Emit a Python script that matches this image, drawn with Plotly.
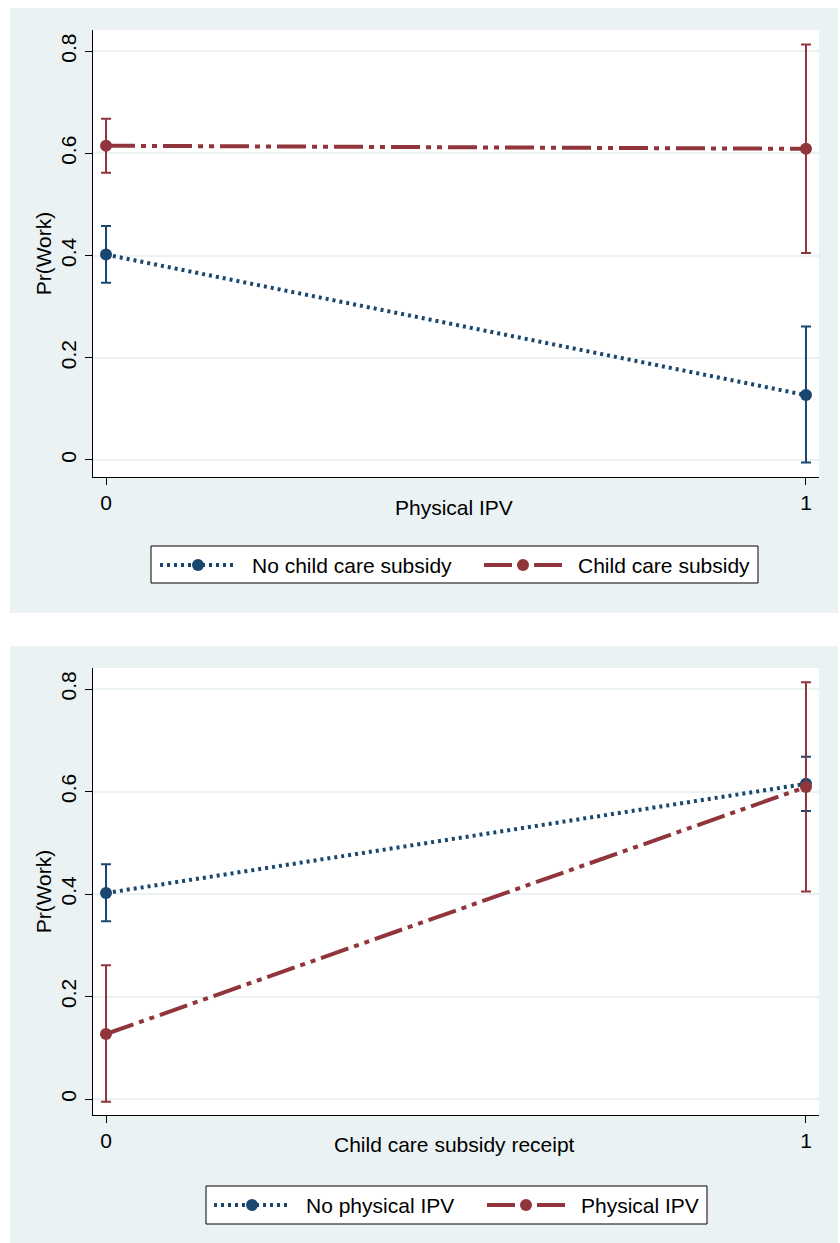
import plotly.graph_objects as go

# ---- data ----
x_levels = [0, 1]
x_ticktext = ["0", "1"]
y_ticks = [0, 0.2, 0.4, 0.6, 0.8]
y_ticktext = ["0", "0.2", "0.4", "0.6", "0.8"]

# Pr(Work) by Physical IPV (0/1)
no_sub = [0.402, 0.127]
no_sub_lo = [0.347, -0.005]
no_sub_hi = [0.458, 0.261]
sub = [0.615, 0.609]
sub_lo = [0.562, 0.405]
sub_hi = [0.668, 0.813]

# Panel 2 series by Child care subsidy receipt (0/1)
no_ipv = [no_sub[0], sub[0]]
no_ipv_lo = [no_sub_lo[0], sub_lo[0]]
no_ipv_hi = [no_sub_hi[0], sub_hi[0]]
ipv = [no_sub[1], sub[1]]
ipv_lo = [no_sub_lo[1], sub_lo[1]]
ipv_hi = [no_sub_hi[1], sub_hi[1]]

panel1_names = ["No child care subsidy", "Child care subsidy"]
panel2_names = ["No physical IPV", "Physical IPV"]

NAVY = "#1a476f"
MAROON = "#90353b"
BG = "#eaf2f3"
FONT = "Liberation Sans, Arial, sans-serif"
FS = 21
W, H = 840, 1243

BLUE_DASH = "3px,4px"
RED_DASH = "29px,6px,5px,6px,5px,6px"
RED_KEY_DASH = "28px,22px"


def px(xp):
    return xp / W


def py(yp):
    return 1 - yp / H


def trace(x, y, lo, hi, name, color, dash, xa, ya):
    return go.Scatter(
        x=x, y=y, name=name, mode="lines+markers", showlegend=False,
        line=dict(color=color, width=4, dash=dash),
        marker=dict(color=color, size=12),
        error_y=dict(type="data", symmetric=False,
                     array=[h - v for h, v in zip(hi, y)],
                     arrayminus=[v - l for v, l in zip(y, lo)],
                     color=color, thickness=2, width=5),
        xaxis=xa, yaxis=ya, hoverinfo="skip",
    )


fig = go.Figure()
fig.add_trace(trace(x_levels, no_sub, no_sub_lo, no_sub_hi, panel1_names[0], NAVY, BLUE_DASH, "x", "y"))
fig.add_trace(trace(x_levels, sub, sub_lo, sub_hi, panel1_names[1], MAROON, RED_DASH, "x", "y"))
fig.add_trace(trace(x_levels, no_ipv, no_ipv_lo, no_ipv_hi, panel2_names[0], NAVY, BLUE_DASH, "x2", "y2"))
fig.add_trace(trace(x_levels, ipv, ipv_lo, ipv_hi, panel2_names[1], MAROON, RED_DASH, "x2", "y2"))

xr = [-0.0186, 1.0186]

xcommon = dict(range=xr, tickvals=x_levels, ticktext=x_ticktext, showgrid=False,
               zeroline=False, showline=True, linecolor="black", linewidth=1.3,
               ticks="outside", ticklen=7, tickwidth=1.3, tickcolor="black",
               tickfont=dict(size=FS, color="black", family=FONT))
ycommon = dict(tickvals=y_ticks, ticktext=y_ticktext, showgrid=True, gridcolor=BG,
               gridwidth=1.5, zeroline=False, showline=True, linecolor="black",
               linewidth=1.3, ticks="outside", ticklen=7, tickwidth=1.3, tickcolor="black",
               tickangle=-90, tickfont=dict(size=FS, color="black", family=FONT),
               title=dict(text="Pr(Work)", font=dict(size=FS, color="black", family=FONT), standoff=0))

shapes = [
    dict(type="rect", xref="paper", yref="paper", x0=px(10), x1=px(838), y0=py(613), y1=py(8),
         fillcolor=BG, line=dict(width=0), layer="below"),
    dict(type="rect", xref="paper", yref="paper", x0=px(10), x1=px(838), y0=py(1243), y1=py(646),
         fillcolor=BG, line=dict(width=0), layer="below"),
    dict(type="rect", xref="paper", yref="paper", x0=px(93), x1=px(819), y0=py(477), y1=py(30),
         fillcolor="white", line=dict(width=0), layer="below"),
    dict(type="rect", xref="paper", yref="paper", x0=px(93), x1=px(819), y0=py(1115), y1=py(668),
         fillcolor="white", line=dict(width=0), layer="below"),
]
annotations = [
    dict(text="Physical IPV", xref="paper", yref="paper", x=px(454), y=py(508),
         xanchor="center", yanchor="middle", showarrow=False,
         font=dict(size=FS, color="black", family=FONT)),
    dict(text="Child care subsidy receipt", xref="paper", yref="paper", x=px(454), y=py(1144),
         xanchor="center", yanchor="middle", showarrow=False,
         font=dict(size=FS, color="black", family=FONT)),
]


def add_legend(box, cy, keys, names):
    # box: (x0, x1, y0, y1) in pixels; keys: list of (x0, x1) key-line extents
    x0, x1, y0, y1 = box
    shapes.append(dict(type="rect", xref="paper", yref="paper", x0=px(x0), x1=px(x1),
                       y0=py(y1), y1=py(y0), fillcolor="white",
                       line=dict(color="black", width=1)))
    styles = [(NAVY, BLUE_DASH), (MAROON, RED_KEY_DASH)]
    for (k0, k1), (col, dash), name in zip(keys, styles, names):
        shapes.append(dict(type="line", xref="paper", yref="paper", x0=px(k0), x1=px(k1),
                           y0=py(cy), y1=py(cy), line=dict(color=col, width=4, dash=dash)))
        cx = (k0 + k1) / 2
        shapes.append(dict(type="circle", xref="paper", yref="paper", x0=px(cx - 6), x1=px(cx + 6),
                           y0=py(cy + 6), y1=py(cy - 6), fillcolor=col, line=dict(color=col, width=0)))
        annotations.append(dict(text=name, xref="paper", yref="paper", x=px(k1 + 14), y=py(cy),
                                xanchor="left", yanchor="middle", showarrow=False,
                                font=dict(size=FS, color="black", family=FONT)))


add_legend((151, 758, 546, 583), 565, [(160, 236), (484, 562)], panel1_names)
add_legend((206, 707, 1186, 1224), 1205, [(214, 290), (487, 565)], panel2_names)

fig.update_layout(
    width=W, height=H, margin=dict(l=0, r=0, t=0, b=0),
    paper_bgcolor="white", plot_bgcolor="white",
    font=dict(family=FONT, size=FS, color="black"),
    showlegend=False, hovermode=False,
    xaxis=dict(domain=[px(93), px(819)], anchor="y", **xcommon),
    yaxis=dict(domain=[py(477), py(30)], anchor="x", range=[-0.0333, 0.8415], **ycommon),
    xaxis2=dict(domain=[px(93), px(819)], anchor="y2", **xcommon),
    yaxis2=dict(domain=[py(1115), py(668)], anchor="x2", range=[-0.031, 0.841], **ycommon),
    shapes=shapes,
    annotations=annotations,
)

fig.write_html("out.html", config={"displayModeBar": False},
               post_script="document.body.style.margin='0px';")
